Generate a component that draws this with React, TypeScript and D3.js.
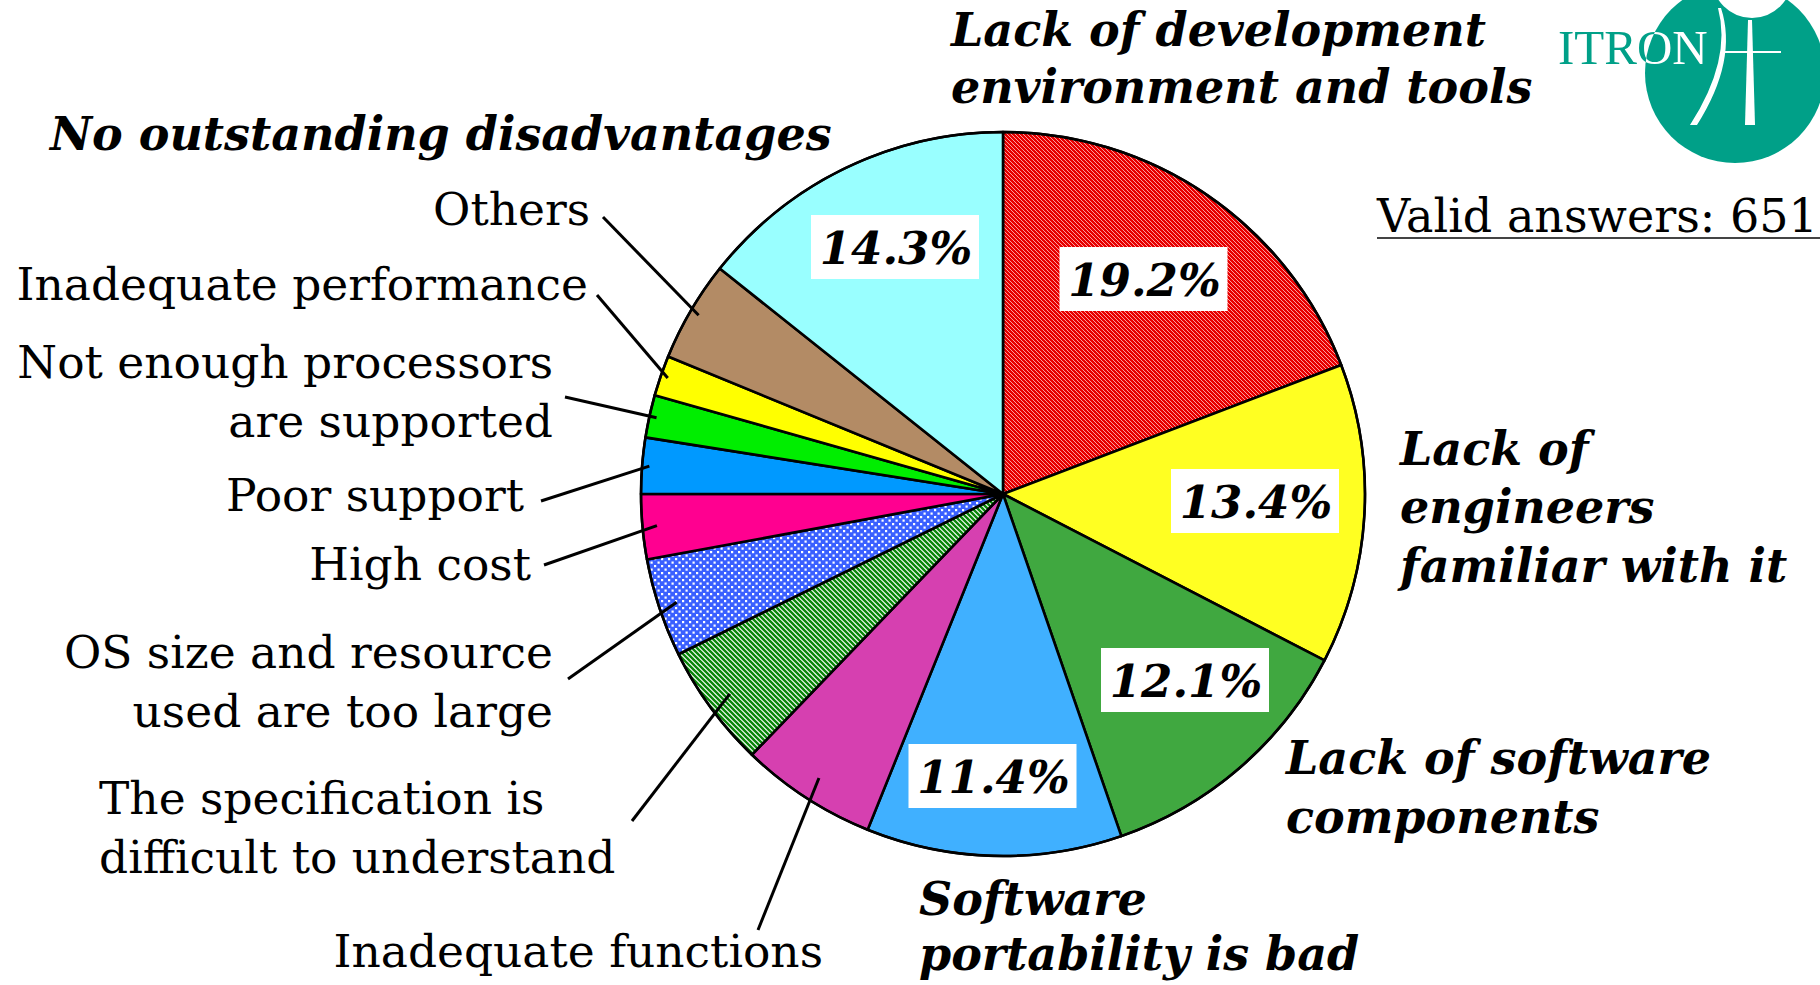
import React from "react";
import * as d3 from "d3";

const categories = [
  "Lack of development environment and tools",
  "Lack of engineers familiar with it",
  "Lack of software components",
  "Software portability is bad",
  "Inadequate functions",
  "The specification is difficult to understand",
  "OS size and resource used are too large",
  "High cost",
  "Poor support",
  "Not enough processors are supported",
  "Inadequate performance",
  "Others",
  "No outstanding disadvantages",
];
const values = [19.2, 13.4, 12.1, 11.4, 6.1, 5.5, 4.4, 2.9, 2.5, 1.9, 1.8, 4.5, 14.3];
const shownPercent = [true, true, true, true, false, false, false, false, false, false, false, false, true];
const validAnswers = 651;

const fills = [
  "url(#redHatch)", "#ffff22", "#40a840", "#40b0ff", "#d640b0", "url(#greenHatch)",
  "url(#blueDots)", "#ff0090", "#0099ff", "#00ee00", "#ffff00", "#b38b65", "#99ffff",
];

// label layout (positions in px)
type Lab = { lines: string[]; x: number; y: number[]; anchor: string; bold: boolean; lead?: [number, number]; leadR?: number; pct?: [number, number] };
const labelLayout: Lab[] = [
  { lines: ["Lack of development", "environment and tools"], x: 951, y: [46, 103], anchor: "start", bold: true, pct: [1143.5, 279] },
  { lines: ["Lack of", "engineers", "familiar with it"], x: 1400, y: [465, 523, 582], anchor: "start", bold: true, pct: [1255, 501] },
  { lines: ["Lack of software", "components"], x: 1286, y: [774, 833], anchor: "start", bold: true, pct: [1185, 680] },
  { lines: ["Software", "portability is bad"], x: 919, y: [915, 970], anchor: "start", bold: true, pct: [992.5, 776] },
  { lines: ["Inadequate functions"], x: 823, y: [967], anchor: "end", bold: false, lead: [758, 930], leadR: 0.935 },
  { lines: ["The specification is", "difficult to understand"], x: 99, y: [814, 873], anchor: "start", bold: false, lead: [632, 821], leadR: 0.935 },
  { lines: ["OS size and resource", "used are too large"], x: 553, y: [668, 727], anchor: "end", bold: false, lead: [568, 679], leadR: 0.95 },
  { lines: ["High cost"], x: 531, y: [580], anchor: "end", bold: false, lead: [544, 565], leadR: 0.96 },
  { lines: ["Poor support"], x: 524, y: [511], anchor: "end", bold: false, lead: [541, 501], leadR: 0.98 },
  { lines: ["Not enough processors", "are supported"], x: 553, y: [378, 437], anchor: "end", bold: false, lead: [565, 397], leadR: 0.98 },
  { lines: ["Inadequate performance"], x: 588, y: [300], anchor: "end", bold: false, lead: [597, 295], leadR: 0.98 },
  { lines: ["Others"], x: 590, y: [225], anchor: "end", bold: false, lead: [603, 217], leadR: 0.975 },
  { lines: ["No outstanding disadvantages"], x: 50, y: [150], anchor: "start", bold: true, pct: [895, 247] },
];

const W = 1820, H = 985;
const cx = 1003, cy = 494, R = 362;
const SERIF = "'DejaVu Serif', serif";

export default function App() {
  const data = values.map((v, i) => ({ v, i }));
  const pie = d3.pie<{ v: number; i: number }>().sort(null).value((d) => d.v).startAngle(0).endAngle(2 * Math.PI);
  const arcs = pie(data);
  const arcGen = d3.arc<d3.PieArcDatum<{ v: number; i: number }>>().innerRadius(0).outerRadius(R);
  const polar = (a: number, r: number): [number, number] => [cx + r * Math.sin(a), cy - r * Math.cos(a)];

  return (
    <svg width={W} height={H} style={{ position: "absolute", left: 0, top: 0, background: "#fff" }}>
      <defs>
        <pattern id="redHatch" width="4" height="4" patternUnits="userSpaceOnUse">
          <rect width="4" height="4" fill="#e80000" />
          <path d="M-1,-1 L5,5 M-1,3 L1,5 M3,-1 L5,1" stroke="#ffb0b0" strokeWidth="0.9" />
        </pattern>
        <pattern id="greenHatch" width="5" height="5" patternUnits="userSpaceOnUse">
          <rect width="5" height="5" fill="#ffffff" />
          <path d="M-1,-1 L6,6 M-1,4 L1,6 M4,-1 L6,1" stroke="#0a860a" strokeWidth="2.4" />
        </pattern>
        <pattern id="blueDots" width="7" height="7" patternUnits="userSpaceOnUse">
          <rect width="7" height="7" fill="#3a60ff" />
          <rect x="1" y="1" width="2.2" height="2.2" fill="#ffffff" />
          <rect x="4.5" y="4.5" width="2.2" height="2.2" fill="#ffffff" />
        </pattern>
        <clipPath id="logoClip">
          <circle cx={1735} cy={73} r={90} />
        </clipPath>
      </defs>

      {/* logo */}
      <g>
        <circle cx={1735} cy={73} r={90} fill="#00a088" />
        <g clipPath="url(#logoClip)">
          <circle cx={1752} cy={-22} r={40} fill="#fff" />
          <path d="M1748,20 L1752,20 L1755,125 L1745,125 Z" fill="#fff" />
          <line x1={1722} y1={52} x2={1781} y2={52} stroke="#fff" strokeWidth={2} />
          <path d="M1718,8 Q1732,60 1690,125 L1697,125 Q1738,60 1721,8 Z" fill="#fff" />
        </g>
        <text x={1558} y={64} fontFamily="'Liberation Serif', serif" fontSize={49} fill="#00a088">ITRON</text>
        <g clipPath="url(#logoClip)">
          <text x={1558} y={64} fontFamily="'Liberation Serif', serif" fontSize={49} fill="#fff">ITRON</text>
        </g>
      </g>

      {/* slices */}
      <g>
        {arcs.map((a, k) => (
          <path key={k} d={arcGen(a) || ""} transform={`translate(${cx},${cy})`} fill={fills[a.data.i]} stroke="#000" strokeWidth={2.6} strokeLinejoin="round" />
        ))}
        <circle cx={cx} cy={cy} r={R} fill="none" stroke="#000" strokeWidth={2.4} />
      </g>

      {/* leader lines */}
      {arcs.map((a, k) => {
        const L = labelLayout[k];
        if (!L.lead) return null;
        const mid = (a.startAngle + a.endAngle) / 2;
        const [x2, y2] = polar(mid, R * (L.leadR || 0.95));
        return <line key={"l" + k} x1={L.lead[0]} y1={L.lead[1]} x2={x2} y2={y2} stroke="#000" strokeWidth={3} />;
      })}

      {/* percent boxes */}
      {arcs.map((a, k) => {
        if (!shownPercent[k]) return null;
        const L = labelLayout[k];
        const [px, py] = L.pct || polar((a.startAngle + a.endAngle) / 2, R * 0.72);
        return (
          <g key={"p" + k}>
            <rect x={px - 84} y={py - 32} width={168} height={64} fill="#fff" />
            <text x={px + 1} y={py + 17} textAnchor="middle" fontFamily={SERIF} fontWeight="bold" fontStyle="italic" fontSize={45} fill="#000">
              {values[k].toFixed(1)}%
            </text>
          </g>
        );
      })}

      {/* category labels */}
      {labelLayout.map((L, k) => (
        <text key={"t" + k} textAnchor={L.anchor} fontFamily={SERIF} fontWeight={L.bold ? "bold" : "normal"} fontStyle={L.bold ? "italic" : "normal"} fontSize={L.bold ? 46 : 45.5} fill="#000">
          {L.lines.map((ln, j) => (
            <tspan key={j} x={L.x} y={L.y[j]}>{ln}</tspan>
          ))}
        </text>
      ))}

      {/* valid answers */}
      <text x={1377} y={232} fontFamily={SERIF} fontSize={46} fill="#000">Valid answers: {validAnswers}</text>
      <line x1={1377} y1={238} x2={1820} y2={238} stroke="#444" strokeWidth={2} />
    </svg>
  );
}
